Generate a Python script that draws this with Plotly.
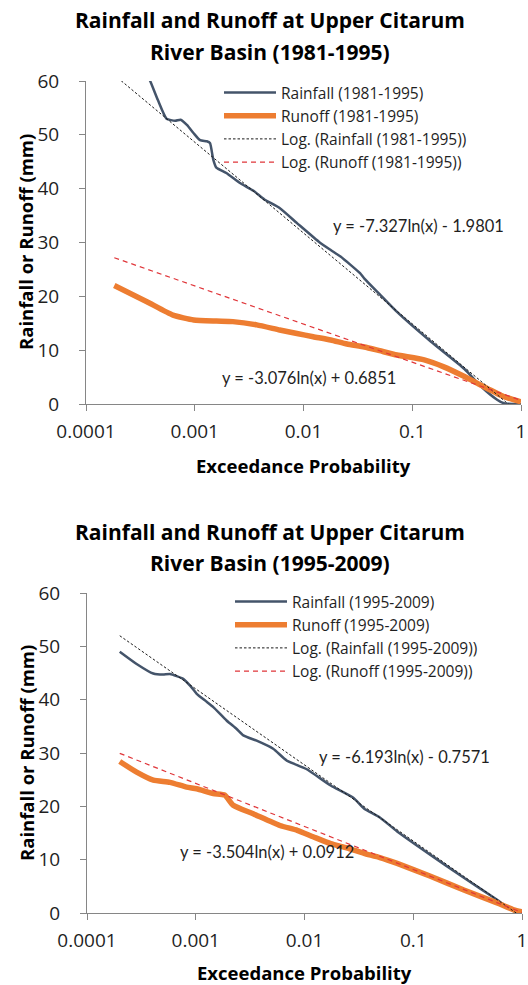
import numpy as np
import plotly.graph_objects as go

W, H = 528, 985
FONT = "Open Sans"
EQ_FONT = "Lato"
TXT = "#1f1f1f"
AXIS = "#868686"

# ---- 1981-1995 exceedance curves ----
p_rain_81 = [1.82e-4, 2.51e-4, 3.16e-4, 3.89e-4, 4.57e-4, 5.50e-4, 6.61e-4, 7.41e-4,
             8.51e-4, 9.77e-4, 1.12e-3, 1.29e-3, 1.38e-3, 1.48e-3, 1.58e-3, 1.95e-3,
             2.63e-3, 3.47e-3, 4.37e-3, 6.03e-3, 8.71e-3, 1.41e-2, 1.78e-2, 2.19e-2,
             3.31e-2, 3.63e-2, 5.01e-2, 7.24e-2, 0.148, 0.302, 0.427, 0.603, 0.708, 1.0]
rain_81 = [80.0, 69.0, 63.5, 60.0, 56.5, 53.0, 52.6, 52.8,
           51.8, 50.3, 49.0, 48.8, 48.5, 45.4, 43.9, 42.9,
           41.0, 39.6, 38.0, 36.4, 33.6, 30.0, 28.6, 27.4,
           24.3, 23.3, 20.4, 17.1, 11.6, 6.5, 3.3, 0.8, 0.1, 0.0]

p_run_81 = [1.82e-4, 3.63e-4, 6.31e-4, 9.77e-4, 1.58e-3, 2.24e-3, 3.72e-3, 6.03e-3,
            8.71e-3, 1.23e-2, 1.78e-2, 2.51e-2, 3.63e-2, 5.01e-2, 7.24e-2, 0.129,
            0.195, 0.302, 0.457, 0.692, 1.0]
run_81 = [22.0, 19.0, 16.5, 15.6, 15.4, 15.3, 14.7, 13.75,
          13.1, 12.5, 11.9, 11.15, 10.6, 9.9, 9.1, 8.2,
          6.9, 5.1, 3.2, 1.4, 0.4]

# ---- 1995-2009 exceedance curves ----
p_rain_95 = [2.0e-4, 2.86e-4, 4.07e-4, 5.0e-4, 5.79e-4, 7.67e-4, 8.9e-4, 1.02e-3,
             1.26e-3, 1.45e-3, 1.92e-3, 2.38e-3, 2.74e-3, 3.63e-3, 5.15e-3, 6.84e-3,
             1.04e-2, 1.74e-2, 2.81e-2, 3.52e-2, 4.93e-2, 7.11e-2, 0.144, 0.292,
             0.590, 0.841, 1.0]
rain_95 = [49.0, 46.7, 44.9, 44.7, 44.8, 43.9, 42.6, 41.1,
           39.6, 38.6, 36.1, 34.5, 33.3, 32.3, 30.8, 28.6,
           27.0, 23.9, 21.6, 19.6, 17.9, 15.3, 10.9, 6.6,
           2.5, 0.3, 0.0]

p_run_95 = [2.0e-4, 2.86e-4, 4.07e-4, 5.79e-4, 8.24e-4, 1.02e-3, 1.45e-3, 1.85e-3,
            2.21e-3, 3.37e-3, 5.94e-3, 8.57e-3, 1.20e-2, 1.74e-2, 2.44e-2, 3.52e-2,
            4.93e-2, 7.11e-2, 0.144, 0.292, 0.590, 0.841, 1.0]
run_95 = [28.4, 26.4, 24.9, 24.5, 23.6, 23.3, 22.4, 22.1,
          20.2, 18.6, 16.4, 15.5, 14.3, 13.0, 12.2, 11.2,
          10.4, 9.3, 6.9, 4.3, 1.9, 0.6, 0.2]

# ---- logarithmic trendlines: y = a*ln(x) + b ----
trend_rain_81 = (-7.327, -1.9801)
trend_run_81 = (-3.076, 0.6851)
trend_rain_95 = (-6.193, -0.7571)
trend_run_95 = (-3.504, 0.0912)

x_tick_vals = [1e-4, 1e-3, 1e-2, 1e-1, 1]
x_tick_text = ["0.0001", "0.001", "0.01", "0.1", "1"]


def trend(coef, x0):
    xs = np.geomspace(x0, 1.0, 60)
    return xs, coef[0] * np.log(xs) + coef[1]


def px(x, y):
    return x / W, 1 - y / H


fig = go.Figure()


def add_panel(xa, ya, leg, period, pr, r, pq, q, tr, tq):
    common = dict(xaxis=xa, yaxis=ya, legend=leg, mode="lines", hoverinfo="skip")
    fig.add_trace(go.Scatter(x=pr, y=r, name=f"Rainfall ({period})",
                             line=dict(color="#44546A", width=2.5, shape="spline", smoothing=0.5),
                             **common))
    fig.add_trace(go.Scatter(x=pq, y=q, name=f"Runoff ({period})",
                             line=dict(color="#ED7D31", width=5.5, shape="spline", smoothing=0.5),
                             **common))
    tx, ty = trend(tr, pr[0])
    fig.add_trace(go.Scatter(x=tx, y=ty, name=f"Log. (Rainfall ({period}))",
                             line=dict(color="#1a1a1a", width=1, dash="2.5px,2px"), **common))
    tx, ty = trend(tq, pq[0])
    fig.add_trace(go.Scatter(x=tx, y=ty, name=f"Log. (Runoff ({period}))",
                             line=dict(color="#e0363a", width=1.2, dash="5px,4px"), **common))


add_panel("x", "y", "legend", "1981-1995", p_rain_81, rain_81, p_run_81, run_81,
          trend_rain_81, trend_run_81)
add_panel("x2", "y2", "legend2", "1995-2009", p_rain_95, rain_95, p_run_95, run_95,
          trend_rain_95, trend_run_95)

xaxis_style = dict(type="log", range=[-4, 0], tickvals=x_tick_vals, ticktext=x_tick_text,
                   showline=True, linecolor=AXIS, linewidth=1, ticks="outside",
                   ticklen=6, tickcolor=AXIS, showgrid=False, zeroline=False,
                   automargin=False,
                   tickfont=dict(family=FONT, size=19, color=TXT), ticklabelstandoff=4)
yaxis_style = dict(range=[0, 60], dtick=10, showline=True, linecolor=AXIS, linewidth=1,
                   ticks="outside", ticklen=6, tickcolor=AXIS, showgrid=False,
                   zeroline=False, automargin=False,
                   tickfont=dict(family=FONT, size=19, color=TXT),
                   ticklabelstandoff=16)

top_y = [1 - 404 / H, 1 - 81 / H]
bot_y = [1 - 913 / H, 1 - 593 / H]

legend_style = dict(bgcolor="rgba(0,0,0,0)", font=dict(family=FONT, size=15.5, color=TXT),
                    xanchor="left", yanchor="top", itemwidth=52, tracegroupgap=0)

lx1, ly1 = px(219, 76)
lx2, ly2 = px(230, 585)

fig.update_layout(
    width=W, height=H, autosize=False,
    margin=dict(l=0, r=0, t=0, b=0, pad=0),
    paper_bgcolor="white", plot_bgcolor="white",
    showlegend=True,
    xaxis=dict(domain=[86 / W, 521 / W], anchor="y", **xaxis_style),
    yaxis=dict(domain=top_y, anchor="x", **yaxis_style),
    xaxis2=dict(domain=[87 / W, 522 / W], anchor="y2", **xaxis_style),
    yaxis2=dict(domain=bot_y, anchor="x2", **yaxis_style),
    legend=dict(x=lx1, y=ly1, **legend_style),
    legend2=dict(x=lx2, y=ly2, **legend_style),
)

annotations = []


def note(text, x, y, size, bold=False, angle=0, xanchor="center", family=FONT):
    ax, ay = px(x, y)
    annotations.append(dict(
        text=f"<b>{text}</b>" if bold else text, x=ax, y=ay, xref="paper", yref="paper",
        showarrow=False, xanchor=xanchor, yanchor="middle", textangle=angle,
        font=dict(family=family, size=size, color="#000000" if bold else TXT)))


# chart titles
note("Rainfall and Runoff at Upper Citarum", 270, 20, 21, bold=True)
note("River Basin (1981-1995)", 270, 52, 21, bold=True)
note("Rainfall and Runoff at Upper Citarum", 270, 532, 21, bold=True)
note("River Basin (1995-2009)", 270, 563, 21, bold=True)

# axis titles
note("Rainfall or Runoff (mm)", 26, 242, 18.5, bold=True, angle=-90)
note("Rainfall or Runoff (mm)", 26, 753, 18.5, bold=True, angle=-90)
note("Exceedance Probability", 303, 465, 18.5, bold=True)
note("Exceedance Probability", 304, 972, 18.5, bold=True)

# trendline equations
note("y = -7.327ln(x) - 1.9801", 331, 226, 16.5, xanchor="left", family=EQ_FONT)
note("y = -3.076ln(x) + 0.6851", 220, 378, 16.5, xanchor="left", family=EQ_FONT)
note("y = -6.193ln(x) - 0.7571", 317, 757, 16.5, xanchor="left", family=EQ_FONT)
note("y = -3.504ln(x) + 0.0912", 178, 852, 16.5, xanchor="left", family=EQ_FONT)

fig.update_layout(annotations=annotations)

fig.write_html("out.html")
